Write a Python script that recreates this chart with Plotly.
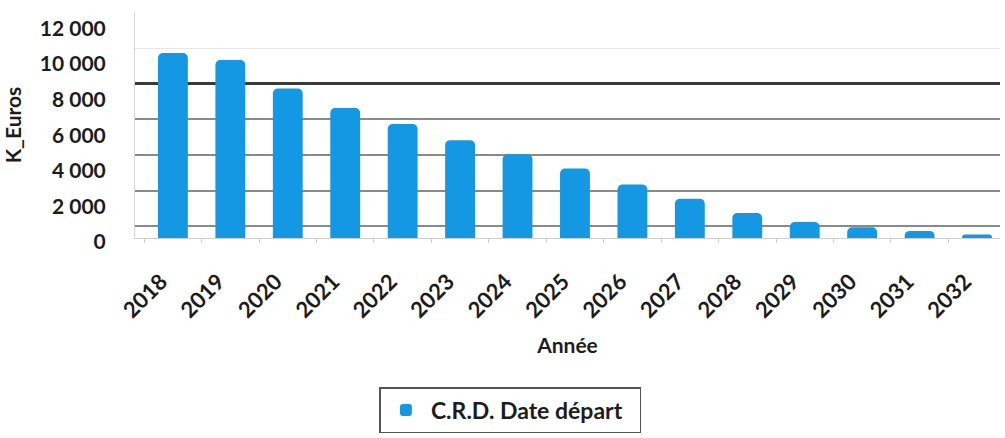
import plotly.graph_objects as go

# Capital restant dû (K€) par année
annees = ["2018", "2019", "2020", "2021", "2022", "2023", "2024", "2025",
          "2026", "2027", "2028", "2029", "2030", "2031", "2032"]
crd = [10400, 10000, 8400, 7300, 6400, 5500, 4700, 3900,
       3000, 2200, 1400, 900, 600, 400, 200]

y_ticks = [0, 2000, 4000, 6000, 8000, 10000, 12000]

serie_nom = "C.R.D. Date départ"
bleu = "#1598e4"
texte = "#1c1c1c"
police = "Lato"

fig = go.Figure()

# Back-wall gridlines, slightly raised like a 3D chart wall
wall_range = [-660, 12040]
fig.update_layout(
    yaxis2=dict(overlaying="y", range=wall_range, tickvals=[10000, 12000],
                showgrid=True, gridcolor="#e6e6e6", gridwidth=1,
                showticklabels=False, zeroline=False, showline=False),
    yaxis3=dict(overlaying="y", range=wall_range, tickvals=[0, 2000, 4000, 6000],
                showgrid=True, gridcolor="#8a8a8a", gridwidth=1.5,
                showticklabels=False, zeroline=False, showline=False),
    yaxis4=dict(overlaying="y", range=wall_range, tickvals=[8000],
                showgrid=True, gridcolor="#3a3a3a", gridwidth=2.5,
                showticklabels=False, zeroline=False, showline=False),
)
# invisible anchors so the overlay axes are drawn
for ax in ("y2", "y3", "y4"):
    fig.add_trace(go.Scatter(x=[annees[0]], y=[None], yaxis=ax,
                             showlegend=False, hoverinfo="skip"))

fig.add_trace(go.Bar(
    x=annees, y=crd, name=serie_nom,
    marker=dict(color=bleu, line=dict(width=0), cornerradius=5),
    width=0.52,
))

fig.update_layout(
    width=1005, height=438,
    margin=dict(l=135, r=5, t=12, b=195),
    paper_bgcolor="white", plot_bgcolor="white",
    separators=", ",
    font=dict(family=police, color=texte, size=20, weight="bold"),
    showlegend=True,
    legend=dict(
        orientation="h", x=0.434, xanchor="center", y=-0.66, yanchor="top",
        bordercolor="#555555", borderwidth=1.5, bgcolor="white",
        font=dict(family=police, size=23, color=texte, weight="bold"),
        entrywidth=204, itemwidth=40,
    ),
    xaxis=dict(
        range=[-0.66, 14.4], tickangle=-45, automargin=False,
        tickfont=dict(family=police, size=22, color=texte, weight="bold"),
        showline=True, linecolor="#cfcfcf", linewidth=1,
        ticks="outside", tickson="boundaries", ticklen=4, tickcolor="#cfcfcf",
        ticklabelstandoff=21, ticklabelshift=-12,
        showgrid=False,
        title=dict(text="Année", standoff=16,
                   font=dict(family=police, size=21, color=texte, weight="bold")),
    ),
    yaxis=dict(
        range=[0, 12700], tickvals=y_ticks, tickformat=",d", automargin=False,
        tickfont=dict(family=police, size=21, color=texte, weight="bold"),
        showgrid=False, zeroline=False,
        showline=True, linecolor="#d6d6d6", linewidth=1,
        ticks="", ticklabelstandoff=24, ticklabelshift=4,
        title=dict(text="K_Euros", standoff=12,
                   font=dict(family=police, size=21, color=texte, weight="bold")),
    ),
    bargap=0.48,
)

fig.write_html("out.html")
